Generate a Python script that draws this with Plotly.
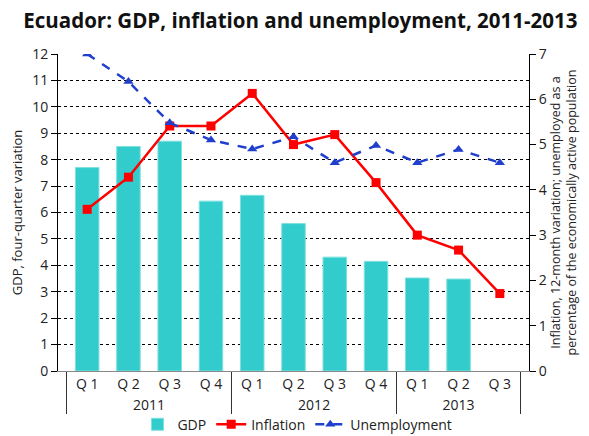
import plotly.graph_objects as go

years = ["2011"] * 4 + ["2012"] * 4 + ["2013"] * 3
quarters = ["Q 1", "Q 2", "Q 3", "Q 4", "Q 1", "Q 2", "Q 3", "Q 4", "Q 1", "Q 2", "Q 3"]
gdp = [7.7, 8.5, 8.7, 6.43, 6.65, 5.58, 4.31, 4.15, 3.52, 3.48, None]
inflation = [3.57, 4.28, 5.41, 5.41, 6.13, 5.0, 5.22, 4.16, 3.0, 2.67, 1.71]
unemployment = [7.0, 6.39, 5.48, 5.1, 4.9, 5.17, 4.6, 4.98, 4.6, 4.89, 4.6]

x = [years, quarters]
FONT = "Open Sans"

fig = go.Figure()
fig.add_trace(go.Bar(x=x, y=gdp, name="GDP", marker=dict(color="#33CCCC", line=dict(color="#7FE0E0", width=1)),
                     width=0.57))
fig.add_trace(go.Scatter(x=x, y=inflation, name="Inflation", yaxis="y2", mode="lines+markers",
                         line=dict(color="#FF0000", width=2.5),
                         marker=dict(symbol="square", size=9, color="#FF0000")))
fig.add_trace(go.Scatter(x=x, y=unemployment, name="Unemployment", yaxis="y2", mode="lines+markers",
                         line=dict(color="#1F3FCC", width=2.5, dash="dash"),
                         marker=dict(symbol="triangle-up", size=9, color="#1F3FCC")))

fig.update_layout(
    width=589, height=436,
    margin=dict(l=58, r=60, t=54, b=65, autoexpand=False),
    paper_bgcolor="white", plot_bgcolor="white",
    font=dict(family=FONT, size=13, color="#222"),
    title=dict(text="<b>Ecuador: GDP, inflation and unemployment, 2011-2013</b>",
               x=0.51, xanchor="center", y=0.953, yanchor="middle",
               font=dict(size=20.5, color="#111", family=FONT)),
    showlegend=True,
    legend=dict(orientation="h", xref="container", yref="container",
                x=0.505, xanchor="center", y=0.026, yanchor="middle",
                font=dict(size=14), bgcolor="rgba(0,0,0,0)", itemwidth=30, tracegroupgap=0),
    xaxis=dict(type="multicategory", showline=True, linecolor="#888", linewidth=1,
               showdividers=True, dividercolor="#333", dividerwidth=1, automargin=False,
               tickfont=dict(size=14), showgrid=False),
    yaxis=dict(range=[0, 12], dtick=1, showline=True, linecolor="black", linewidth=1,
               ticks="outside", ticklen=6, tickcolor="black", automargin=False,
               tickfont=dict(size=14),
               showgrid=True, gridcolor="black", griddash="dot", gridwidth=1,
               zeroline=False,
               title=dict(text="GDP, four-quarter variation", font=dict(size=13), standoff=6)),
    yaxis2=dict(range=[0, 7], dtick=1, overlaying="y", side="right", showline=True,
                linecolor="black", linewidth=1, ticks="outside", ticklen=6, tickcolor="black",
                showgrid=False, zeroline=False, automargin=False, tickfont=dict(size=14),
                title=dict(text="Inflation, 12-month variation; unemployed as a<br>percentage of the economically active population",
                           font=dict(size=12.5), standoff=4)),
)

fig.write_html("out.html", config={"displayModeBar": False},
               post_script="document.body.style.margin='0';")
